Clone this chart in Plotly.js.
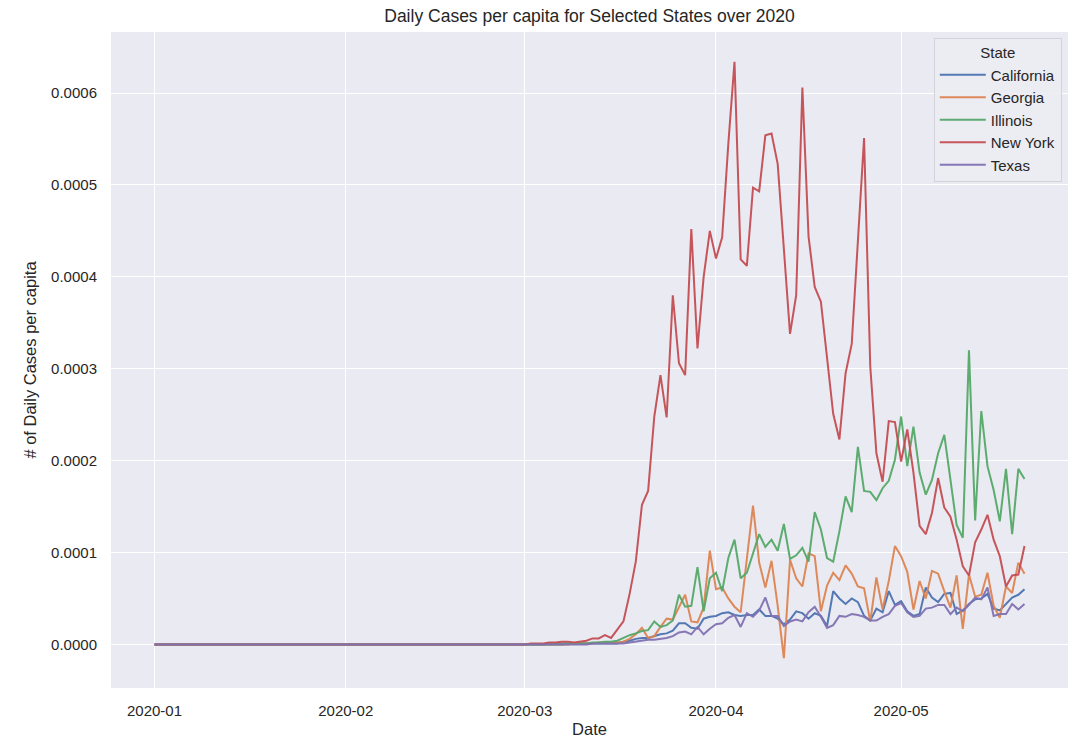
<!DOCTYPE html>
<html>
<head>
<meta charset="utf-8">
<script src="https://cdn.plot.ly/plotly-3.0.1.min.js"></script>
<style>
  html, body { margin: 0; padding: 0; background: #ffffff; }
  #chart { width: 1088px; height: 750px; }
</style>
</head>
<body>
<div id="chart"></div>
<script>
// ---------- DATA (daily values, 2020-01-01 .. 2020-05-21) ----------
const states = ["California", "Georgia", "Illinois", "New York", "Texas"];
const colors = ["#4C72B0", "#DD8452", "#55A868", "#C44E52", "#8172B3"];
const firstDay = "2020-01-01";
const lastDay = "2020-05-21";

// January and February (60 days): no cases in any state
const janFeb = [
  0,0,0,0,0,0,0,0,0,0, 0,0,0,0,0,0,0,0,0,0, 0,0,0,0,0,0,0,0,0,0, 0,
  0,0,0,0,0,0,0,0,0,0, 0,0,0,0,0,0,0,0,0,0, 0,0,0,0,0,0,0,0,0
];

// March 1 .. May 21 (82 days)
const californiaMarMay = [
  0, 0, 0, 0, 0.000001, 0.000001, 0.000001, 0.000001, 0.000001, 0.000001,
  0.000001, 0.000001, 0.000001, 0.000001, 0.000001, 0.000001, 0.000003, 0.000004, 0.000006, 0.000007,
  0.000007, 0.000009, 0.000011, 0.000012, 0.000015, 0.000023, 0.000023, 0.000018, 0.000017, 0.000028,
  0.00003,
  0.000031, 0.000034, 0.000035, 0.000032, 0.000031, 0.000032, 0.000032, 0.000038, 0.000031, 0.000031,
  0.000028, 0.000022, 0.000027, 0.000036, 0.000034, 0.000028, 0.000034, 0.000031, 0.00002, 0.000058,
  0.00005, 0.000044, 0.00005, 0.000046, 0.000031, 0.000026, 0.000039, 0.000035, 0.000058, 0.000043,
  0.000047, 0.000036, 0.000031, 0.000033, 0.000062, 0.000051, 0.000046, 0.000055, 0.000056, 0.000033,
  0.000037, 0.000044, 0.000049, 0.00005, 0.000055, 0.000039, 0.000037, 0.000044, 0.000051, 0.000054,
  0.00006
];
const georgiaMarMay = [
  0, 0, 0, 0, 0, 0, 0, 0, 0.000001, 0.000001,
  0.000001, 0.000001, 0.000002, 0.000002, 0.000002, 0.000002, 0.000003, 0.000006, 0.000011, 0.000018,
  0.000007, 0.000009, 0.000019, 0.000028, 0.000027, 0.000041, 0.000054, 0.000025, 0.000024, 0.00004,
  0.000102,
  0.00006, 0.000062, 0.00005, 0.000041, 0.000035, 0.000092, 0.000151, 0.000089, 0.000062, 0.000091,
  0.000042, -0.000015, 0.000092, 0.000072, 0.000063, 0.000099, 0.000096, 0.000036, 0.000064, 0.000078,
  0.00007, 0.000086, 0.000077, 0.000063, 0.000061, 0.000025, 0.000073, 0.000038, 0.000069, 0.000107,
  0.000096, 0.000079, 0.000038, 0.000069, 0.00005, 0.00008, 0.000077, 0.000058, 0.00004, 0.000075,
  0.000017, 0.000076, 0.000052, 0.000054, 0.000078, 0.000042, 0.000029, 0.000063, 0.000056, 0.000089,
  0.000077
];
const illinoisMarMay = [
  0, 0, 0, 0, 0, 0, 0, 0.000001, 0.000001, 0.000001,
  0.000001, 0.000002, 0.000002, 0.000003, 0.000003, 0.000004, 0.000007, 0.00001, 0.000012, 0.0000145,
  0.0000155, 0.000025, 0.000019, 0.000021, 0.000026, 0.000054, 0.000041, 0.000042, 0.000084, 0.000036,
  0.000072,
  0.000078, 0.000058, 0.000094, 0.000114, 0.000072, 0.000078, 0.000099, 0.00012, 0.000106, 0.000114,
  0.000102, 0.000131, 0.000093, 0.000097, 0.000105, 0.00009, 0.000144, 0.000125, 0.000094, 0.00009,
  0.000123, 0.000161, 0.000144, 0.000215, 0.000167, 0.000166, 0.000157, 0.00017, 0.000178, 0.000201,
  0.000248, 0.000194, 0.000237, 0.000187, 0.000163, 0.000179, 0.000208, 0.000228, 0.000179, 0.00013,
  0.000116, 0.00032, 0.000135, 0.000254, 0.000194, 0.000168, 0.000134, 0.000191, 0.00012, 0.000191,
  0.00018
];
const newYorkMarMay = [
  0, 0.000001, 0.000001, 0.000001, 0.000002, 0.000002, 0.000003, 0.000003, 0.000002, 0.000003,
  0.000004, 0.0000065, 0.0000065, 0.00001, 0.000007, 0.000016, 0.000025, 0.000055, 0.00009, 0.000152,
  0.000167, 0.000248, 0.000293, 0.000247, 0.00038, 0.000306, 0.000293, 0.000452, 0.000322, 0.0004,
  0.00045,
  0.00042, 0.000443, 0.000545, 0.000634, 0.000419, 0.000412, 0.000497, 0.000493, 0.000554, 0.000556,
  0.000523, 0.000435, 0.000338, 0.00038, 0.000606, 0.000444, 0.000389, 0.000373, 0.000312, 0.000251,
  0.000223, 0.000295, 0.000327, 0.000433, 0.000551, 0.000303, 0.000208, 0.000177, 0.000243, 0.000242,
  0.000199, 0.000234, 0.000187, 0.000129, 0.00012, 0.000143, 0.000181, 0.000149, 0.000139, 0.000114,
  0.000085, 0.000075, 0.000111, 0.000125, 0.000141, 0.000114, 0.000096, 0.000063, 0.000075, 0.000076,
  0.000107
];
const texasMarMay = [
  0, 0, 0, 0, 0, 0, 0, 0, 0, 0,
  0, 0.000001, 0.000001, 0.000001, 0.000001, 0.000001, 0.000001, 0.000002, 0.000003, 0.000004,
  0.000005, 0.000005, 0.000006, 0.000007, 0.000009, 0.000013, 0.000014, 0.000011, 0.000019, 0.000011,
  0.000017,
  0.000022, 0.000023, 0.000029, 0.000032, 0.000019, 0.000034, 0.00003, 0.000037, 0.000051, 0.000031,
  0.000031, 0.00002, 0.000025, 0.000027, 0.000025, 0.000035, 0.000041, 0.00003, 0.000018, 0.000021,
  0.000031, 0.00003, 0.000033, 0.000032, 0.00003, 0.000026, 0.000026, 0.00003, 0.000033, 0.000042,
  0.000045, 0.000035, 0.00003, 0.000031, 0.000039, 0.00004, 0.000043, 0.000043, 0.000033, 0.00004,
  0.000036, 0.000043, 0.000051, 0.000049, 0.000062, 0.000031, 0.000033, 0.000033, 0.000044, 0.000038,
  0.000044
];

const xTickLabels = ["2020-01", "2020-02", "2020-03", "2020-04", "2020-05"];
const xTickDates = ["2020-01-01", "2020-02-01", "2020-03-01", "2020-04-01", "2020-05-01"];

// ---------- BUILD ----------
function pad2(n) { return (n < 10 ? "0" : "") + n; }
function fmt(ms) {
  const d = new Date(ms);
  return d.getUTCFullYear() + "-" + pad2(d.getUTCMonth() + 1) + "-" + pad2(d.getUTCDate()) +
    " " + pad2(d.getUTCHours()) + ":" + pad2(d.getUTCMinutes()) + ":" + pad2(d.getUTCSeconds());
}
const t0 = Date.parse(firstDay + "T00:00:00Z");
const t1 = Date.parse(lastDay + "T00:00:00Z");
const dates = [];
for (let t = t0; t <= t1; t += 86400000) dates.push(fmt(t).slice(0, 10));

const series = [
  janFeb.concat(californiaMarMay),
  janFeb.concat(georgiaMarMay),
  janFeb.concat(illinoisMarMay),
  janFeb.concat(newYorkMarMay),
  janFeb.concat(texasMarMay)
];

const traces = states.map((s, i) => ({
  type: "scatter",
  mode: "lines",
  name: s,
  x: dates,
  y: series[i],
  line: { color: colors[i], width: 2 },
  opacity: 0.95,
  hoverinfo: "x+y+name"
}));

// matplotlib-like 5% margins
const xpad = 0.05 * (t1 - t0);
let ymin = Infinity, ymax = -Infinity;
series.forEach(a => a.forEach(v => { if (v < ymin) ymin = v; if (v > ymax) ymax = v; }));
const ypad = 0.05 * (ymax - ymin);

const FONT = "Liberation Sans, Arial, sans-serif";
const TXT = "#262626";

const layout = {
  width: 1088,
  height: 750,
  paper_bgcolor: "#ffffff",
  plot_bgcolor: "#EAEAF2",
  margin: { l: 111, r: 20, t: 32, b: 62, pad: 0 },
  font: { family: FONT, color: TXT, size: 15 },
  title: {
    text: "Daily Cases per capita for Selected States over 2020",
    font: { family: FONT, size: 17.5, color: TXT },
    x: 0.5, xref: "paper", xanchor: "center",
    y: 1 - 16 / 750, yref: "container", yanchor: "middle"
  },
  xaxis: {
    type: "date",
    range: [fmt(t0 - xpad), fmt(t1 + xpad)],
    tickmode: "array",
    tickvals: xTickDates,
    ticktext: xTickLabels,
    showgrid: true, gridcolor: "#ffffff", gridwidth: 1.3,
    zeroline: false, showline: false,
    ticks: "outside", ticklen: 9, tickcolor: "rgba(0,0,0,0)",
    tickfont: { family: FONT, size: 15, color: TXT },
    title: { text: "Date", font: { family: FONT, size: 16.5, color: TXT }, standoff: 5 }
  },
  yaxis: {
    range: [ymin - ypad, ymax + ypad],
    tickmode: "linear", tick0: 0, dtick: 0.0001,
    tickformat: ".4f",
    showgrid: true, gridcolor: "#ffffff", gridwidth: 1.3,
    zeroline: false, showline: false,
    ticks: "outside", ticklen: 10, tickcolor: "rgba(0,0,0,0)",
    tickfont: { family: FONT, size: 15, color: TXT },
    title: { text: "# of Daily Cases per capita", font: { family: FONT, size: 16.5, color: TXT }, standoff: 10 }
  },
  showlegend: true,
  legend: {
    x: 0.9935, xanchor: "right", xref: "paper",
    y: 0.991, yanchor: "top", yref: "paper",
    bgcolor: "rgba(236,236,243,0.9)",
    bordercolor: "#D2D2D8", borderwidth: 1,
    font: { family: FONT, size: 15, color: TXT },
    title: { text: "State", side: "top center", font: { family: FONT, size: 15, color: TXT } },
    itemwidth: 46
  },
  hovermode: "closest"
};

Plotly.newPlot("chart", traces, layout, { displayModeBar: false, staticPlot: false });
</script>
</body>
</html>
